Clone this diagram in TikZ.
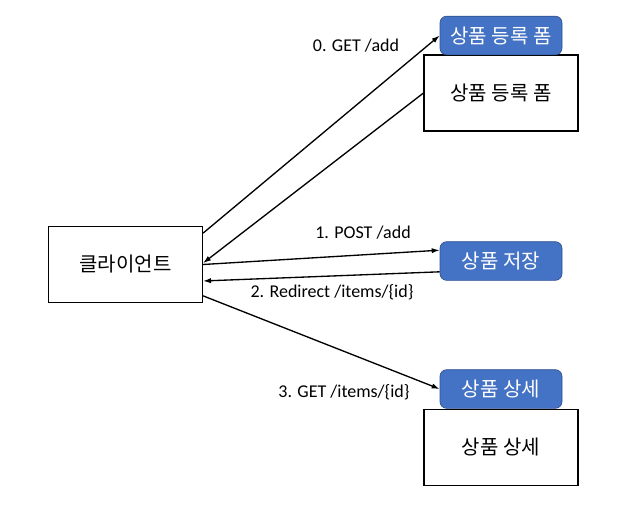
\documentclass[tikz,border=0pt]{standalone}
\usepackage{fontspec}
\setmainfont{Carlito}
\newfontfamily\krfont{Noto Sans CJK KR}
\usetikzlibrary{arrows.meta}
\definecolor{tagblue}{HTML}{4472C4}
\definecolor{tagline}{HTML}{2F528F}
\tikzset{>={Latex[length=6pt,width=4pt]},
  every node/.style={font=\fontsize{13.5}{16}\selectfont},
  page/.style={draw,line width=.8pt,minimum width=115.5pt,minimum height=57pt,font=\krfont\fontsize{15}{18}\selectfont},
  tag/.style={draw=tagline,fill=tagblue,text=white,rounded corners=5pt,line width=.5pt,
    minimum width=91.5pt,minimum height=29pt,font=\krfont\fontsize{15}{18}\selectfont},
  msg/.style={->,draw=black,line width=1pt},
  msglabel/.style={inner sep=1pt}}

\begin{document}
\begin{tikzpicture}[x=.75pt,y=-.75pt]
\useasboundingbox (0,0) rectangle (617,507);
% pages and endpoints
\node[page] (client) at (125.5,264.5) {클라이언트};
\node[page] (formpage) at (501,93) {상품 등록 폼};
\node[tag] (formtag) at (501,35.5) {상품 등록 폼};
\node[tag] (savetag) at (501,261) {상품 저장};
\node[page] (detailpage) at (501,447.5) {상품 상세};
\node[tag] (detailtag) at (501,389) {상품 상세};
% requests
\draw[msg] (client.22.7)--(formtag.west);
\draw[msg] (formpage.west)--(client.1);
\draw[msg] (client.0)--(savetag.170);
\draw[msg] (savetag.190)--(client.-12);
\draw[msg] (client.-22.7)--(detailtag.west);
\node[msglabel] (getadd) at (356,46) {0. GET /add};
\node[msglabel] (postadd) at (363,233) {1. POST /add};
\node[msglabel] (redirect) at (332,292) {2. Redirect /items/\{id\}};
\node[msglabel] (getitem) at (344,392) {3. GET /items/\{id\}};
\end{tikzpicture}
\end{document}
